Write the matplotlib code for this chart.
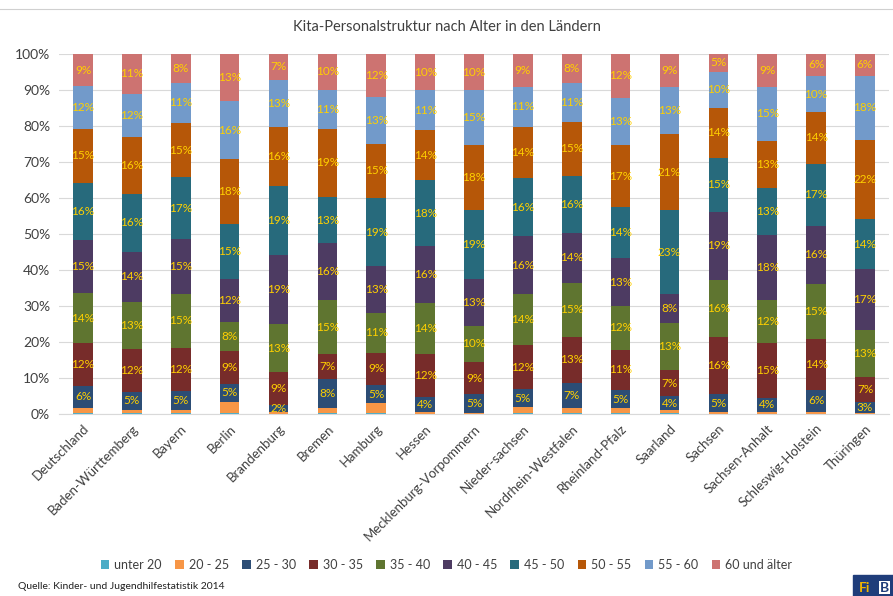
import numpy as np
import matplotlib
matplotlib.use('Agg')
import matplotlib.pyplot as plt
from matplotlib.patches import Rectangle

plt.rcParams['font.family'] = ['Liberation Sans Narrow', 'Lato', 'DejaVu Sans']

laender = ['Deutschland', 'Baden-Württemberg', 'Bayern', 'Berlin', 'Brandenburg', 'Bremen',
           'Hamburg', 'Hessen', 'Mecklenburg-Vorpommern', 'Nieder-sachsen', 'Nordrhein-Westfalen',
           'Rheinland-Pfalz', 'Saarland', 'Sachsen', 'Sachsen-Anhalt', 'Schleswig-Holstein', 'Thüringen']
gruppen = ['unter 20', '20 - 25', '25 - 30', '30 - 35', '35 - 40', '40 - 45',
           '45 - 50', '50 - 55', '55 - 60', '60 und älter']

# shares in percent per age group, one value per Land
unter20 = [0.3, 0.2, 0.2, 0.3, 0.1, 0.3, 0.3, 0.1, 0.1, 0.3, 0.2, 0.3, 0.2, 0.1, 0.1, 0.1, 0.1]
a20_25 = [1.5, 1.0, 1.0, 3.0, 0.4, 1.5, 2.7, 0.5, 0.3, 1.5, 1.4, 1.3, 0.8, 0.4, 0.4, 0.5, 0.2]
a25_30 = [6, 5, 5, 5, 2, 8, 5, 4, 5, 5, 7, 5, 4, 5, 4, 6, 3]
a30_35 = [12, 12, 12, 9, 9, 7, 9, 12, 9, 12, 13, 11, 7, 16, 15, 14, 7]
a35_40 = [14, 13, 15, 8, 13, 15, 11, 14, 10, 14, 15, 12, 13, 16, 12, 15, 13]
a40_45 = [15, 14, 15, 12, 19, 16, 13, 16, 13, 16, 14, 13, 8, 19, 18, 16, 17]
a45_50 = [16, 16, 17, 15, 19, 13, 19, 18, 19, 16, 16, 14, 23, 15, 13, 17, 14]
a50_55 = [15, 16, 15, 18, 16, 19, 15, 14, 18, 14, 15, 17, 21, 14, 13, 14, 22]
a55_60 = [12, 12, 11, 16, 13, 11, 13, 11, 15, 11, 11, 13, 13, 10, 15, 10, 18]
a60 = [9, 11, 8, 13, 7, 10, 12, 10, 10, 9, 8, 12, 9, 5, 9, 6, 6]

serien = [unter20, a20_25, a25_30, a30_35, a35_40, a40_45, a45_50, a50_55, a55_60, a60]
farben = ['#4BACC6', '#F79646', '#2C4D75', '#772C2A', '#5F7530', '#4D3B62',
          '#276A7C', '#B65708', '#729ACA', '#CD7371']

werte = np.array(serien, dtype=float)
anteile = werte / werte.sum(axis=0) * 100  # 100% stacked

fig = plt.figure(figsize=(8.93, 5.96), dpi=100)
ax = fig.add_axes([0.0656, 0.3054, 0.9304, 0.604])

x = np.arange(len(laender))
unten = np.zeros(len(laender))
for i in range(len(serien)):
    ax.bar(x, anteile[i], 0.4, bottom=unten, color=farben[i], label=gruppen[i], zorder=2)
    if i >= 2:
        for j in range(len(laender)):
            ax.text(x[j], unten[j] + anteile[i][j] / 2, '%d%%' % round(werte[i][j]),
                    ha='center', va='center', color='#FFD000', fontsize=8.5, zorder=3)
    unten += anteile[i]

ax.set_xlim(-0.5, len(laender) - 0.5)
ax.set_ylim(0, 100)
ax.set_yticks(np.arange(0, 101, 10))
ax.set_yticklabels(['%d%%' % v for v in range(0, 101, 10)], fontsize=10, color='#404040')
ax.set_xticks(x)
ax.set_xticklabels(laender, rotation=45, ha='right', rotation_mode='anchor',
                   fontsize=9.5, color='#404040')
ax.tick_params(length=0, pad=6)
ax.yaxis.grid(True, color='#D9D9D9', linewidth=0.8, zorder=0)
for s in ['top', 'right', 'left']:
    ax.spines[s].set_visible(False)
ax.spines['bottom'].set_color('#D9D9D9')

fig.text(0.5, 0.955, 'Kita-Personalstruktur nach Alter in den Ländern', ha='center', va='center',
         fontsize=10.5, color='#404040')
fig.legend(loc='center', bbox_to_anchor=(0.5, 0.052), ncol=10, frameon=False, fontsize=9,
           handlelength=0.7, handleheight=0.7, handletextpad=0.4, columnspacing=1.05,
           labelcolor='#404040')
fig.text(0.02, 0.016, 'Quelle: Kinder- und Jugendhilfestatistik 2014', ha='left', va='center',
         fontsize=7.5, color='#202020')

# logo in the corner
fig.patches.append(Rectangle((0.955, 0.0), 0.05, 0.035, transform=fig.transFigure,
                             color='#1F3D7A'))
fig.text(0.962, 0.014, 'Fi', color='#F0B400', fontsize=10, fontweight='bold', va='center')
fig.text(0.985, 0.014, 'B', color='#1F3D7A', fontsize=10, fontweight='bold', va='center',
         bbox=dict(facecolor='white', edgecolor='none', pad=0.5))

fig.lines.append(plt.Line2D([0.0, 1.0], [0.985, 0.985], transform=fig.transFigure,
                            color='#D0D0D0', linewidth=0.8))

fig.savefig('out.png', dpi=100)
